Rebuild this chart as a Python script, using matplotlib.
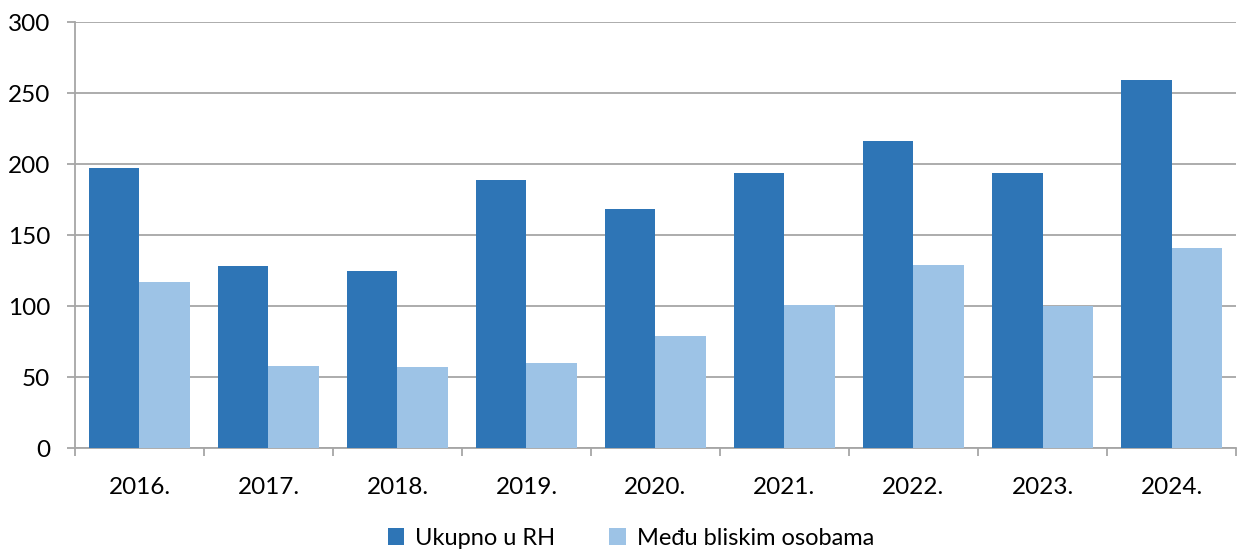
import matplotlib.pyplot as plt
import numpy as np

years = ["2016.", "2017.", "2018.", "2019.", "2020.", "2021.", "2022.", "2023.", "2024."]
ukupno = [197, 128, 125, 189, 168, 194, 216, 194, 259]
bliske = [117, 58, 57, 60, 79, 101, 129, 100, 141]

plt.rcParams['font.family'] = ['Lato', 'DejaVu Sans']

fig = plt.figure(figsize=(12.37, 5.52), dpi=100)
ax = fig.add_axes([0.0606, 0.1884, 0.9386, 0.7716])

x = np.arange(len(years))
w = 0.39
ax.bar(x - w / 2, ukupno, w, color='#2E75B6', label='Ukupno u RH', zorder=3)
ax.bar(x + w / 2, bliske, w, color='#9DC3E6', label='Među bliskim osobama', zorder=3)

ax.set_xlim(-0.5, len(years) - 0.5)
ax.set_ylim(0, 300)
ax.set_yticks(range(0, 301, 50))
ax.yaxis.grid(True, color='#A6A6A6', linewidth=1.3, zorder=0)

ax.set_xticks(x)
ax.set_xticklabels(years)
ax.set_xticks(np.arange(-0.5, len(years)), minor=True)
ax.tick_params(axis='x', which='major', length=0, pad=21, labelsize=17.5)
ax.tick_params(axis='x', which='minor', length=6, color='#A6A6A6', width=1.3)
ax.tick_params(axis='y', length=6, color='#A6A6A6', width=1.3, pad=12, labelsize=17.5)

for s in ['top', 'right']:
    ax.spines[s].set_visible(False)
for s in ['left', 'bottom']:
    ax.spines[s].set_color('#A6A6A6')
    ax.spines[s].set_linewidth(1.3)

fig.legend(loc='center', bbox_to_anchor=(0.51, 0.025), ncol=2, frameon=False,
           fontsize=17, handlelength=0.7, handleheight=0.7, columnspacing=2.3,
           handletextpad=0.45)

fig.savefig('out.png', dpi=100)
